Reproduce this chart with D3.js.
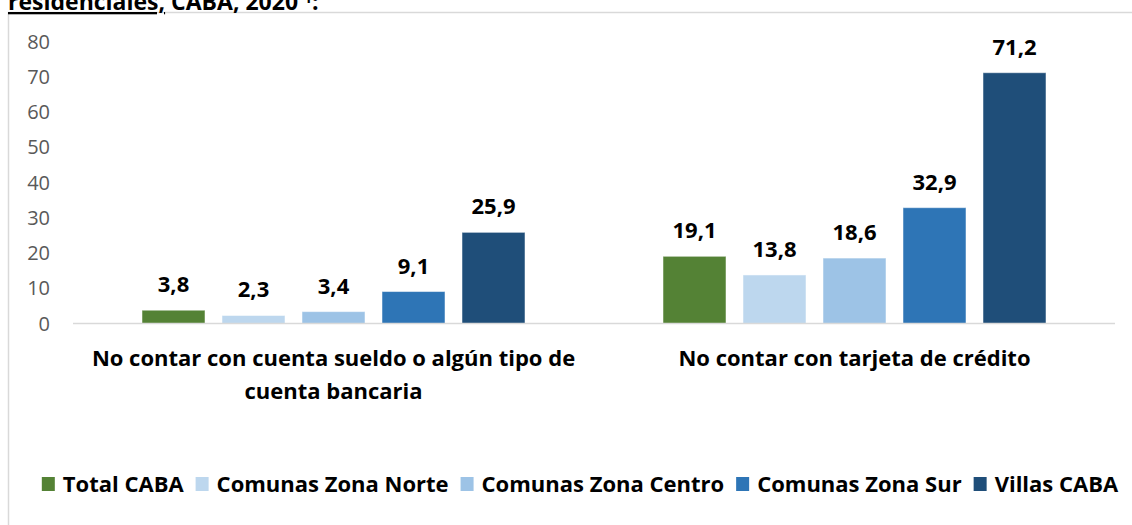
<!DOCTYPE html>
<html>
<head>
<meta charset="utf-8">
<script src="https://cdn.jsdelivr.net/npm/d3@7"></script>
<style>
  body { margin: 0; background: white; }
  svg { display: block; font-family: "Open Sans", sans-serif; }
</style>
</head>
<body>
<script>
// data
const categories = [
  "No contar con cuenta sueldo o algún tipo de cuenta bancaria",
  "No contar con tarjeta de crédito"
];
const seriesNames = ["Total CABA", "Comunas Zona Norte", "Comunas Zona Centro", "Comunas Zona Sur", "Villas CABA"];
const seriesColors = ["#548235", "#BDD7EE", "#9DC3E6", "#2E75B6", "#1F4E79"];
const totalCaba = [3.8, 19.1];
const zonaNorte = [2.3, 13.8];
const zonaCentro = [3.4, 18.6];
const zonaSur = [9.1, 32.9];
const villas = [25.9, 71.2];
const yTicks = [0, 10, 20, 30, 40, 50, 60, 70, 80];

const values = [totalCaba, zonaNorte, zonaCentro, zonaSur, villas];

const width = 1132, height = 525;
const margin = {left: 73, right: 17, top: 41.7, bottom: 201.7};

const svg = d3.select("body").append("svg")
  .attr("width", width)
  .attr("height", height);

// chart area border (cut off on the right and bottom like the source)
svg.append("rect")
  .attr("x", 8.5).attr("y", 12.5)
  .attr("width", width).attr("height", height)
  .attr("fill", "none")
  .attr("stroke", "#D9D9D9")
  .attr("stroke-width", 1.5);

// cropped title line (only its lower part shows in the source)
const title = svg.append("text")
  .attr("x", 8).attr("y", 10)
  .style("font-size", "23px")
  .style("font-weight", "bold")
  .attr("fill", "#000");
title.append("tspan").attr("text-decoration", "underline").text("residenciales,");
title.append("tspan").text(" CABA, 2020 ");
title.append("tspan").attr("font-size", "14px").attr("dy", -7).text("1");
title.append("tspan").attr("dy", 7).text(":");

const x0 = d3.scaleBand()
  .domain(categories)
  .range([margin.left, width - margin.right])
  .padding(0);

const x1 = d3.scaleBand()
  .domain(seriesNames)
  .range([0, x0.bandwidth()])
  .paddingInner(0.2125)
  .paddingOuter(0.8625);

const y = d3.scaleLinear()
  .domain([0, 80])
  .range([height - margin.bottom + 0.3, margin.top]);

// y axis labels (no axis line)
const yAxis = svg.append("g")
  .attr("transform", `translate(50,0)`)
  .call(d3.axisLeft(y).tickValues(yTicks).tickSize(0).tickPadding(0));
yAxis.select(".domain").remove();
yAxis.selectAll("text")
  .style("font-family", "'Open Sans', sans-serif")
  .style("font-size", "20px")
  .attr("fill", "#595959");

// bars
const groups = svg.append("g")
  .selectAll("g")
  .data(categories)
  .join("g")
  .attr("transform", d => `translate(${x0(d)},0)`);

groups.selectAll("rect")
  .data((d, i) => seriesNames.map((s, j) => ({s, j, v: values[j][i]})))
  .join("rect")
  .attr("x", d => x1(d.s))
  .attr("y", d => y(d.v))
  .attr("width", x1.bandwidth())
  .attr("height", d => y(0) - y(d.v))
  .attr("fill", d => seriesColors[d.j])
  .attr("stroke", "rgba(255,255,255,0.5)")
  .attr("stroke-width", 1);

groups.selectAll("text.val")
  .data((d, i) => seriesNames.map((s, j) => ({s, j, v: values[j][i]})))
  .join("text")
  .attr("class", "val")
  .attr("x", d => x1(d.s) + x1.bandwidth() / 2)
  .attr("y", d => y(d.v) - 18)
  .attr("text-anchor", "middle")
  .style("font-size", "22px")
  .style("font-weight", "bold")
  .attr("fill", "#000")
  .text(d => d3.format(".1f")(d.v).replace(".", ","));

// x axis baseline
svg.append("line")
  .attr("x1", margin.left).attr("x2", width - margin.right)
  .attr("y1", y(0)).attr("y2", y(0))
  .attr("stroke", "#D9D9D9")
  .attr("stroke-width", 1.5);

// category labels, wrapped to the band width
svg.append("g")
  .selectAll("text")
  .data(categories)
  .join("text")
  .attr("x", d => x0(d) + x0.bandwidth() / 2)
  .attr("y", 366)
  .attr("text-anchor", "middle")
  .style("font-size", "22px")
  .style("font-weight", "bold")
  .attr("fill", "#000")
  .each(function(d) {
    const t = d3.select(this);
    const words = d.split(" ");
    const maxW = x0.bandwidth();
    let line = [];
    let tspan = t.append("tspan").attr("x", t.attr("x")).attr("dy", 0);
    words.forEach(w => {
      line.push(w);
      tspan.text(line.join(" "));
      if (tspan.node().getComputedTextLength() > maxW && line.length > 1) {
        line.pop();
        tspan.text(line.join(" "));
        line = [w];
        tspan = t.append("tspan").attr("x", t.attr("x")).attr("dy", 33).text(w);
      }
    });
  });

// legend
const legend = svg.append("g");
const items = legend.selectAll("g")
  .data(seriesNames)
  .join("g");
items.append("rect")
  .attr("width", 13).attr("height", 14)
  .attr("y", -7)
  .attr("fill", (d, i) => seriesColors[i]);
items.append("text")
  .attr("x", 21)
  .attr("dy", "0.35em")
  .style("font-size", "22px")
  .style("font-weight", "bold")
  .attr("fill", "#000")
  .text(d => d);

let offs = [];
let acc = 0;
items.each(function() {
  const w = 21 + d3.select(this).select("text").node().getComputedTextLength();
  offs.push(acc);
  acc += w + 12;
});
acc -= 12;
const startX = 580 - acc / 2;
items.attr("transform", (d, i) => `translate(${startX + offs[i]},484)`);
</script>
</body>
</html>
